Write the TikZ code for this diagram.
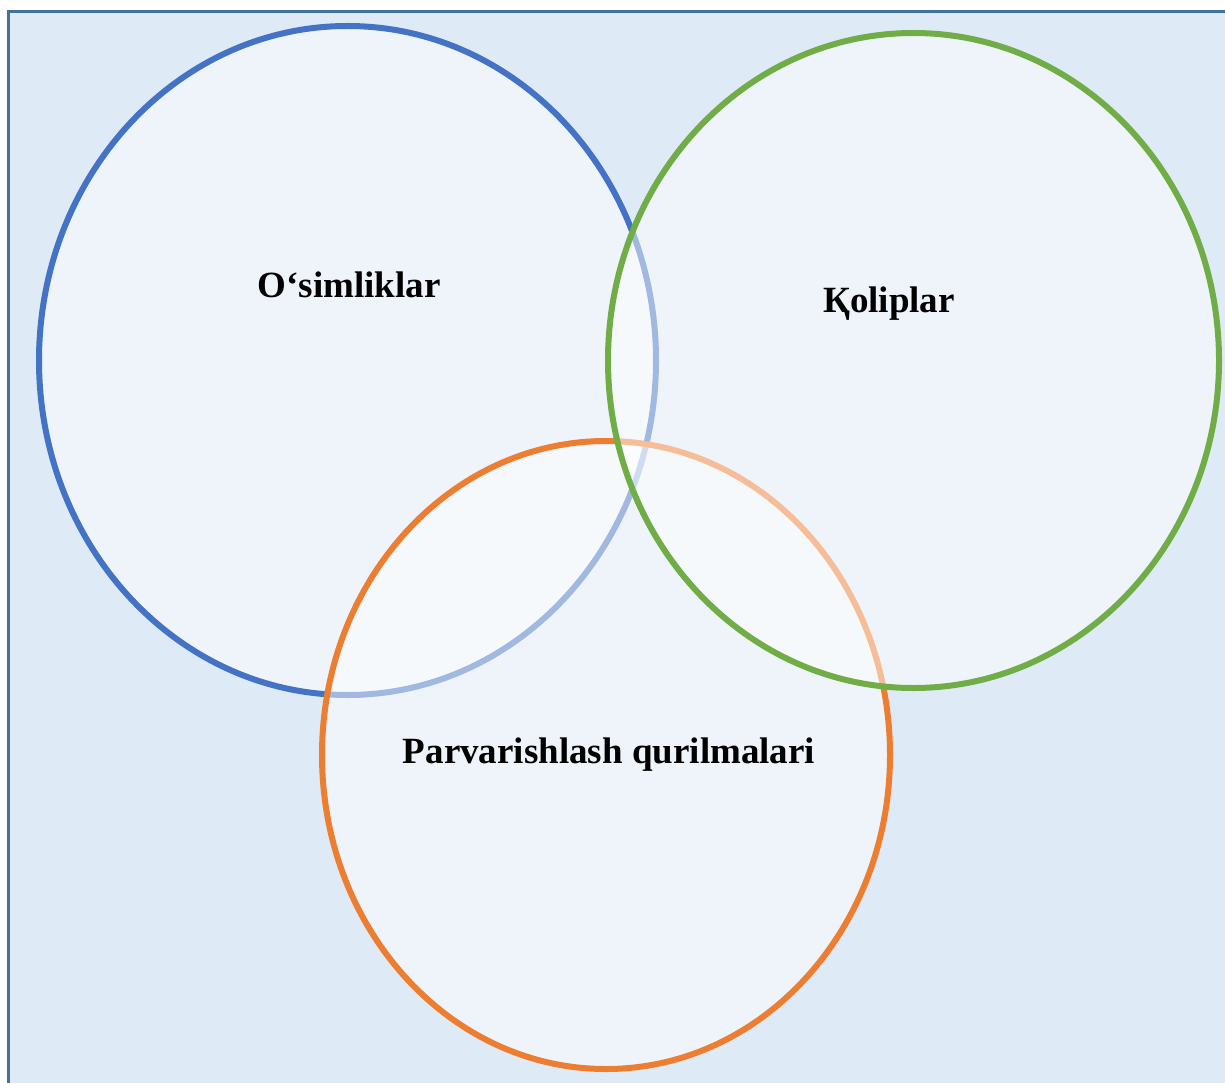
\documentclass[tikz,border=0pt]{standalone}
\usepackage{fontspec}
\setmainfont{Liberation Serif}
\usetikzlibrary{shapes.geometric}
\definecolor{bgblue}{HTML}{DEEAF6}
\definecolor{frameblue}{HTML}{41719C}
\definecolor{cblue}{HTML}{4472C4}
\definecolor{cgreen}{HTML}{70AD47}
\definecolor{corange}{HTML}{ED7D31}
\tikzset{
  venn/.style={draw=#1, line width=6pt, fill=white, fill opacity=0.5, draw opacity=1, ellipse, inner sep=0pt},
  lbl/.style={font=\bfseries\fontsize{37}{40}\selectfont, text=black, anchor=base, inner sep=0pt}
}
\begin{document}
\begin{tikzpicture}[x=1pt,y=-1pt]
\clip (0,0) rectangle (1225,1083);
\fill[white] (0,0) rectangle (1225,1083);
\draw[frameblue, fill=bgblue, line width=3pt] (8.5,12) rectangle (1240,1100);
% circles: blue, orange, green (drawing order)
\node[venn=cblue, minimum width=617pt, minimum height=669pt] (plants) at (347.5,360.5) {};
\node[venn=corange, minimum width=568pt, minimum height=628pt] (care) at (606,755) {};
\node[venn=cgreen, minimum width=611pt, minimum height=655pt] (molds) at (913.5,360.5) {};
% labels
\node[lbl] (t1) at (349,297) {O‘simliklar};
\node[lbl] (t2) at (889,312) {Қoliplar};
\node[lbl] (t3) at (609,763) {Parvarishlash qurilmalari};
\end{tikzpicture}
\end{document}
